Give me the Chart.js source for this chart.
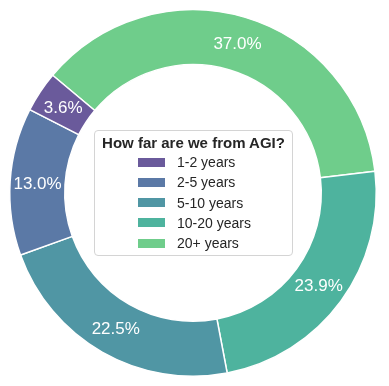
<!DOCTYPE html>
<html>
<head>
<meta charset="utf-8">
<script src="https://cdn.jsdelivr.net/npm/chart.js@4"></script>
<style>
  html, body { margin: 0; padding: 0; background: #ffffff; }
  #wrap { position: relative; width: 389px; height: 386px; font-family: "Liberation Sans", Arial, sans-serif; }
  canvas { position: absolute; left: 0; top: 0; }
  #legend { position: absolute; left: 94px; top: 130px; width: 197px; height: 124px;
    border: 1px solid #d4d4d4; border-radius: 4px; background: #ffffff; box-sizing: content-box; }
  #legend .title { position: absolute; left: 0; width: 100%; top: 3px; text-align: center;
    font-weight: bold; font-size: 15px; color: #262626; line-height: 18px; white-space: nowrap; }
  #legend .patch { position: absolute; left: 43px; width: 27px; height: 9px; }
  #legend .lab { position: absolute; left: 82px; font-size: 14px; color: #262626; line-height: 16px; white-space: nowrap; }
</style>
</head>
<body>
<div id="wrap">
  <canvas id="c" width="389" height="386"></canvas>
  <div id="legend"></div>
</div>
<script>
const legendTitle = "How far are we from AGI?";
const categories = ["1-2 years", "2-5 years", "5-10 years", "10-20 years", "20+ years"];
const percentages = [3.6, 13.0, 22.5, 23.9, 37.0];
const colors = ["#6a5a9b", "#5b79a6", "#5096a4", "#4eb39e", "#6fcd8b"];

// matplotlib draws counter-clockwise; Chart.js draws clockwise -> reverse order
const chartLabels = categories.slice().reverse();
const chartValues = percentages.slice().reverse();
const chartColors = colors.slice().reverse();

const pctLabels = {
  id: 'pctLabels',
  afterDatasetsDraw(chart) {
    const ctx = chart.ctx;
    const meta = chart.getDatasetMeta(0);
    ctx.save();
    ctx.fillStyle = '#ffffff';
    ctx.font = '17px "Liberation Sans", Arial, sans-serif';
    ctx.textAlign = 'center';
    ctx.textBaseline = 'middle';
    meta.data.forEach((arc, i) => {
      const p = arc.getCenterPoint();
      ctx.fillText(chartValues[i].toFixed(1) + '%', p.x, p.y + 1);
    });
    ctx.restore();
  }
};

new Chart(document.getElementById('c'), {
  type: 'doughnut',
  data: {
    labels: chartLabels,
    datasets: [{
      data: chartValues,
      backgroundColor: chartColors,
      borderColor: '#ffffff',
      borderWidth: 1.5,
      hoverOffset: 0
    }]
  },
  options: {
    responsive: false,
    animation: false,
    devicePixelRatio: 1,
    rotation: -50,
    cutout: '70%',
    layout: { padding: { left: 9, right: 12, top: 9, bottom: 9 } },
    plugins: { legend: { display: false }, tooltip: { enabled: false } }
  },
  plugins: [pctLabels]
});

// legend overlay
const lg = document.getElementById('legend');
const t = document.createElement('div');
t.className = 'title';
t.textContent = legendTitle;
lg.appendChild(t);
categories.forEach((name, i) => {
  const cy = 31 + i * 20.3;
  const p = document.createElement('div');
  p.className = 'patch';
  p.style.top = (cy - 4.5) + 'px';
  p.style.background = colors[i];
  lg.appendChild(p);
  const l = document.createElement('div');
  l.className = 'lab';
  l.style.top = (cy - 8) + 'px';
  l.textContent = name;
  lg.appendChild(l);
});
</script>
</body>
</html>
